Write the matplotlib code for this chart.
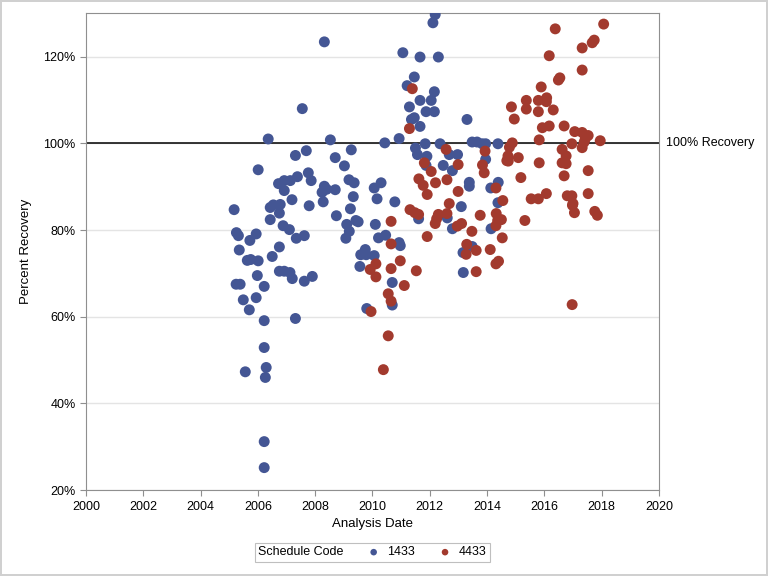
import numpy as np
import matplotlib
matplotlib.use("Agg")
import matplotlib.pyplot as plt
from matplotlib.ticker import FuncFormatter

plt.rcParams['font.family'] = ['Liberation Sans', 'DejaVu Sans']

# schedule code 1433 (analysis date in decimal years, percent recovery)
date_1433 = [2005.17, 2005.25, 2005.32, 2005.72, 2005.94, 2005.35, 2006.75, 2005.63, 2005.75, 2006.01,
             2006.50, 2005.98, 2005.24, 2005.38, 2006.22, 2006.75, 2006.92, 2007.12, 2007.20, 2007.62,
             2007.90, 2005.49, 2005.94, 2005.70, 2006.22, 2007.31, 2006.22, 2005.56, 2006.29, 2006.26,
             2006.22, 2006.22, 2008.32, 2007.55, 2006.36, 2008.53, 2007.31, 2007.69, 2006.01, 2008.70,
             2009.26, 2009.02, 2007.76, 2007.86, 2007.38, 2006.72, 2006.92, 2007.13, 2006.92, 2007.19,
             2006.43, 2006.54, 2006.78, 2006.75, 2006.43, 2006.88, 2007.10, 2007.34, 2007.62, 2007.79,
             2008.28, 2008.32, 2008.40, 2008.24, 2008.70, 2008.74, 2009.23, 2009.33, 2009.18, 2009.36,
             2009.10, 2009.19, 2009.42, 2009.50, 2009.07, 2010.06, 2010.30, 2010.16, 2010.10, 2010.21,
             2009.75, 2009.56, 2009.59, 2009.78, 2010.06, 2009.80, 2010.46, 2010.93, 2010.97, 2010.69,
             2010.69, 2010.78, 2010.43, 2010.93, 2012.19, 2012.11, 2011.06, 2011.66, 2012.30, 2011.46,
             2011.21, 2012.16, 2011.66, 2012.05, 2011.29, 2011.87, 2012.16, 2011.36, 2011.46, 2011.66,
             2013.30, 2011.84, 2012.36, 2013.48, 2013.65, 2013.83, 2013.95, 2014.38, 2011.50, 2011.57,
             2012.68, 2012.97, 2011.90, 2011.87, 2012.47, 2012.79, 2013.95, 2013.38, 2013.38, 2014.13,
             2014.39, 2014.38, 2013.10, 2011.61, 2012.61, 2012.79, 2014.14, 2013.48, 2013.16, 2013.17]
rec_1433 = [84.7, 79.4, 78.7, 77.6, 79.1, 75.4, 76.1, 73.0, 73.2, 72.9,
            73.9, 69.5, 67.5, 67.5, 67.0, 70.5, 70.5, 70.2, 68.8, 68.2,
            69.3, 63.9, 64.4, 61.6, 59.1, 59.6, 52.9, 47.3, 48.3, 46.0,
            31.2, 25.2, 123.4, 108.0, 101.0, 100.8, 97.2, 98.3, 93.9, 96.7,
            98.5, 94.8, 93.2, 91.4, 92.3, 90.7, 91.4, 91.4, 89.1, 87.0,
            85.2, 85.8, 85.9, 83.9, 82.4, 81.0, 80.1, 78.1, 78.7, 85.6,
            86.5, 90.1, 89.4, 88.7, 89.3, 83.3, 84.9, 87.7, 91.6, 90.9,
            81.3, 79.7, 82.2, 81.9, 78.1, 89.7, 90.9, 87.2, 81.3, 78.2,
            75.5, 71.6, 74.3, 74.3, 74.1, 61.9, 78.8, 77.1, 76.4, 67.9,
            62.7, 86.5, 100.1, 101.1, 129.7, 127.8, 120.9, 119.9, 119.9, 115.3,
            113.3, 111.9, 109.9, 109.9, 108.4, 107.3, 107.3, 105.5, 105.9, 103.9,
            105.5, 99.9, 99.9, 100.3, 100.3, 99.9, 99.9, 99.9, 98.9, 97.4,
            97.4, 97.4, 97.0, 94.9, 94.9, 93.7, 96.3, 91.0, 90.1, 89.7,
            91.0, 86.3, 85.4, 82.6, 82.8, 80.3, 80.3, 76.2, 74.8, 70.2]

# schedule code 4433
date_4433 = [2009.92, 2010.12, 2010.12, 2009.95, 2011.39, 2011.29, 2012.57, 2011.81, 2012.05, 2012.99,
             2013.93, 2013.84, 2013.90, 2011.62, 2011.77, 2011.91, 2012.20, 2012.60, 2012.99, 2014.31,
             2014.55, 2012.68, 2011.31, 2011.48, 2011.61, 2012.30, 2012.24, 2012.19, 2012.60, 2012.96,
             2013.11, 2013.47, 2013.76, 2014.32, 2014.37, 2014.31, 2014.53, 2010.65, 2010.65, 2011.91,
             2013.29, 2013.27, 2013.62, 2014.11, 2014.40, 2014.31, 2013.62, 2010.65, 2010.97, 2011.53,
             2011.11, 2010.55, 2010.65, 2010.55, 2010.38, 2018.07, 2016.38, 2017.74, 2017.67, 2017.32,
             2016.17, 2017.32, 2016.54, 2016.49, 2015.89, 2015.37, 2015.37, 2015.79, 2016.08, 2016.07,
             2015.79, 2016.31, 2014.85, 2014.95, 2015.93, 2016.17, 2016.69, 2015.82, 2017.06, 2017.32,
             2017.53, 2017.43, 2017.39, 2017.95, 2016.96, 2017.32, 2016.62, 2016.76, 2016.62, 2016.76,
             2015.82, 2014.88, 2014.78, 2014.73, 2014.69, 2014.74, 2015.09, 2015.18, 2016.69, 2017.53,
             2016.07, 2015.54, 2015.79, 2016.80, 2016.96, 2017.53, 2017.00, 2016.98, 2017.05, 2017.76,
             2017.85, 2014.50, 2015.32, 2016.97]
rec_4433 = [70.9, 72.2, 69.2, 61.2, 112.6, 103.4, 98.6, 95.5, 93.5, 95.1,
            98.2, 95.0, 93.2, 91.8, 90.3, 88.2, 90.9, 91.6, 88.9, 89.7,
            86.8, 86.1, 84.7, 84.0, 83.6, 83.6, 82.6, 81.5, 83.8, 80.9,
            81.5, 79.7, 83.4, 83.8, 82.2, 81.0, 78.2, 82.0, 76.8, 78.5,
            76.7, 74.4, 75.3, 75.5, 72.8, 72.2, 70.4, 71.1, 72.9, 70.6,
            67.2, 65.3, 63.6, 55.6, 47.8, 127.5, 126.4, 123.8, 123.2, 122.0,
            120.2, 116.9, 115.1, 114.6, 113.0, 109.9, 107.9, 109.9, 110.5, 109.6,
            107.3, 107.7, 108.4, 105.6, 103.6, 104.0, 104.0, 100.8, 102.7, 102.5,
            101.8, 101.1, 100.3, 100.6, 99.9, 99.0, 98.6, 97.1, 95.5, 95.3,
            95.5, 100.1, 99.1, 97.1, 96.0, 95.9, 96.7, 92.1, 92.5, 93.7,
            88.4, 87.2, 87.2, 87.9, 87.9, 88.4, 86.1, 85.7, 84.0, 84.3,
            83.4, 82.4, 82.2, 62.8]

codes = ['1433', '4433']
colors = ['#445694', '#A23A2E']
x_ticks = list(range(2000, 2021, 2))
y_ticks = [20, 40, 60, 80, 100, 120]
ref_value = 100

fig = plt.figure(figsize=(7.68, 5.76), dpi=100)
fig.patch.set_edgecolor('#d0d0d0')
fig.patch.set_linewidth(1.5)
ax = fig.add_axes([0.112, 0.149, 0.746, 0.828])

ax.scatter(date_1433, rec_1433, s=62, color=colors[0], edgecolors='none', zorder=3, label=codes[0])
ax.scatter(date_4433, rec_4433, s=62, color=colors[1], edgecolors='none', zorder=3, label=codes[1])

ax.axhline(ref_value, color='black', lw=1.1, zorder=2)
ax.text(2020.25, ref_value, '100% Recovery', va='center', ha='left', fontsize=9)

ax.set_xlim(2000, 2020)
ax.set_ylim(20, 130)
ax.set_xticks(x_ticks)
ax.set_yticks(y_ticks)
ax.yaxis.set_major_formatter(FuncFormatter(lambda v, p: '%d%%' % v))
ax.grid(axis='y', color='#e4e4e4', lw=1, zorder=0)
ax.set_axisbelow(True)
for s in ax.spines.values():
    s.set_color('#8f8f8f')
ax.tick_params(colors='#8f8f8f', labelcolor='black', labelsize=9, length=4)
ax.set_xlabel('Analysis Date', fontsize=9.5, labelpad=4)
ax.set_ylabel('Percent Recovery', fontsize=9.5, labelpad=8)

leg = ax.legend(loc='upper center', bbox_to_anchor=(0.5, -0.097), ncol=2, fontsize=9,
                title='Schedule Code', title_fontsize=9, frameon=True, fancybox=False,
                markerscale=0.6, handlelength=1.0, handletextpad=0.6, columnspacing=1.0,
                borderpad=0.3)
leg.get_frame().set_edgecolor('#b0b0b0')
leg.get_frame().set_linewidth(0.8)
# put the title on the same row as the entries
box = leg.get_children()[0]
title_box, entries = box.get_children()
box._children = [entries]
entries._children = [title_box] + entries.get_children()
entries.sep = 17

fig.savefig('out.png', dpi=100)
